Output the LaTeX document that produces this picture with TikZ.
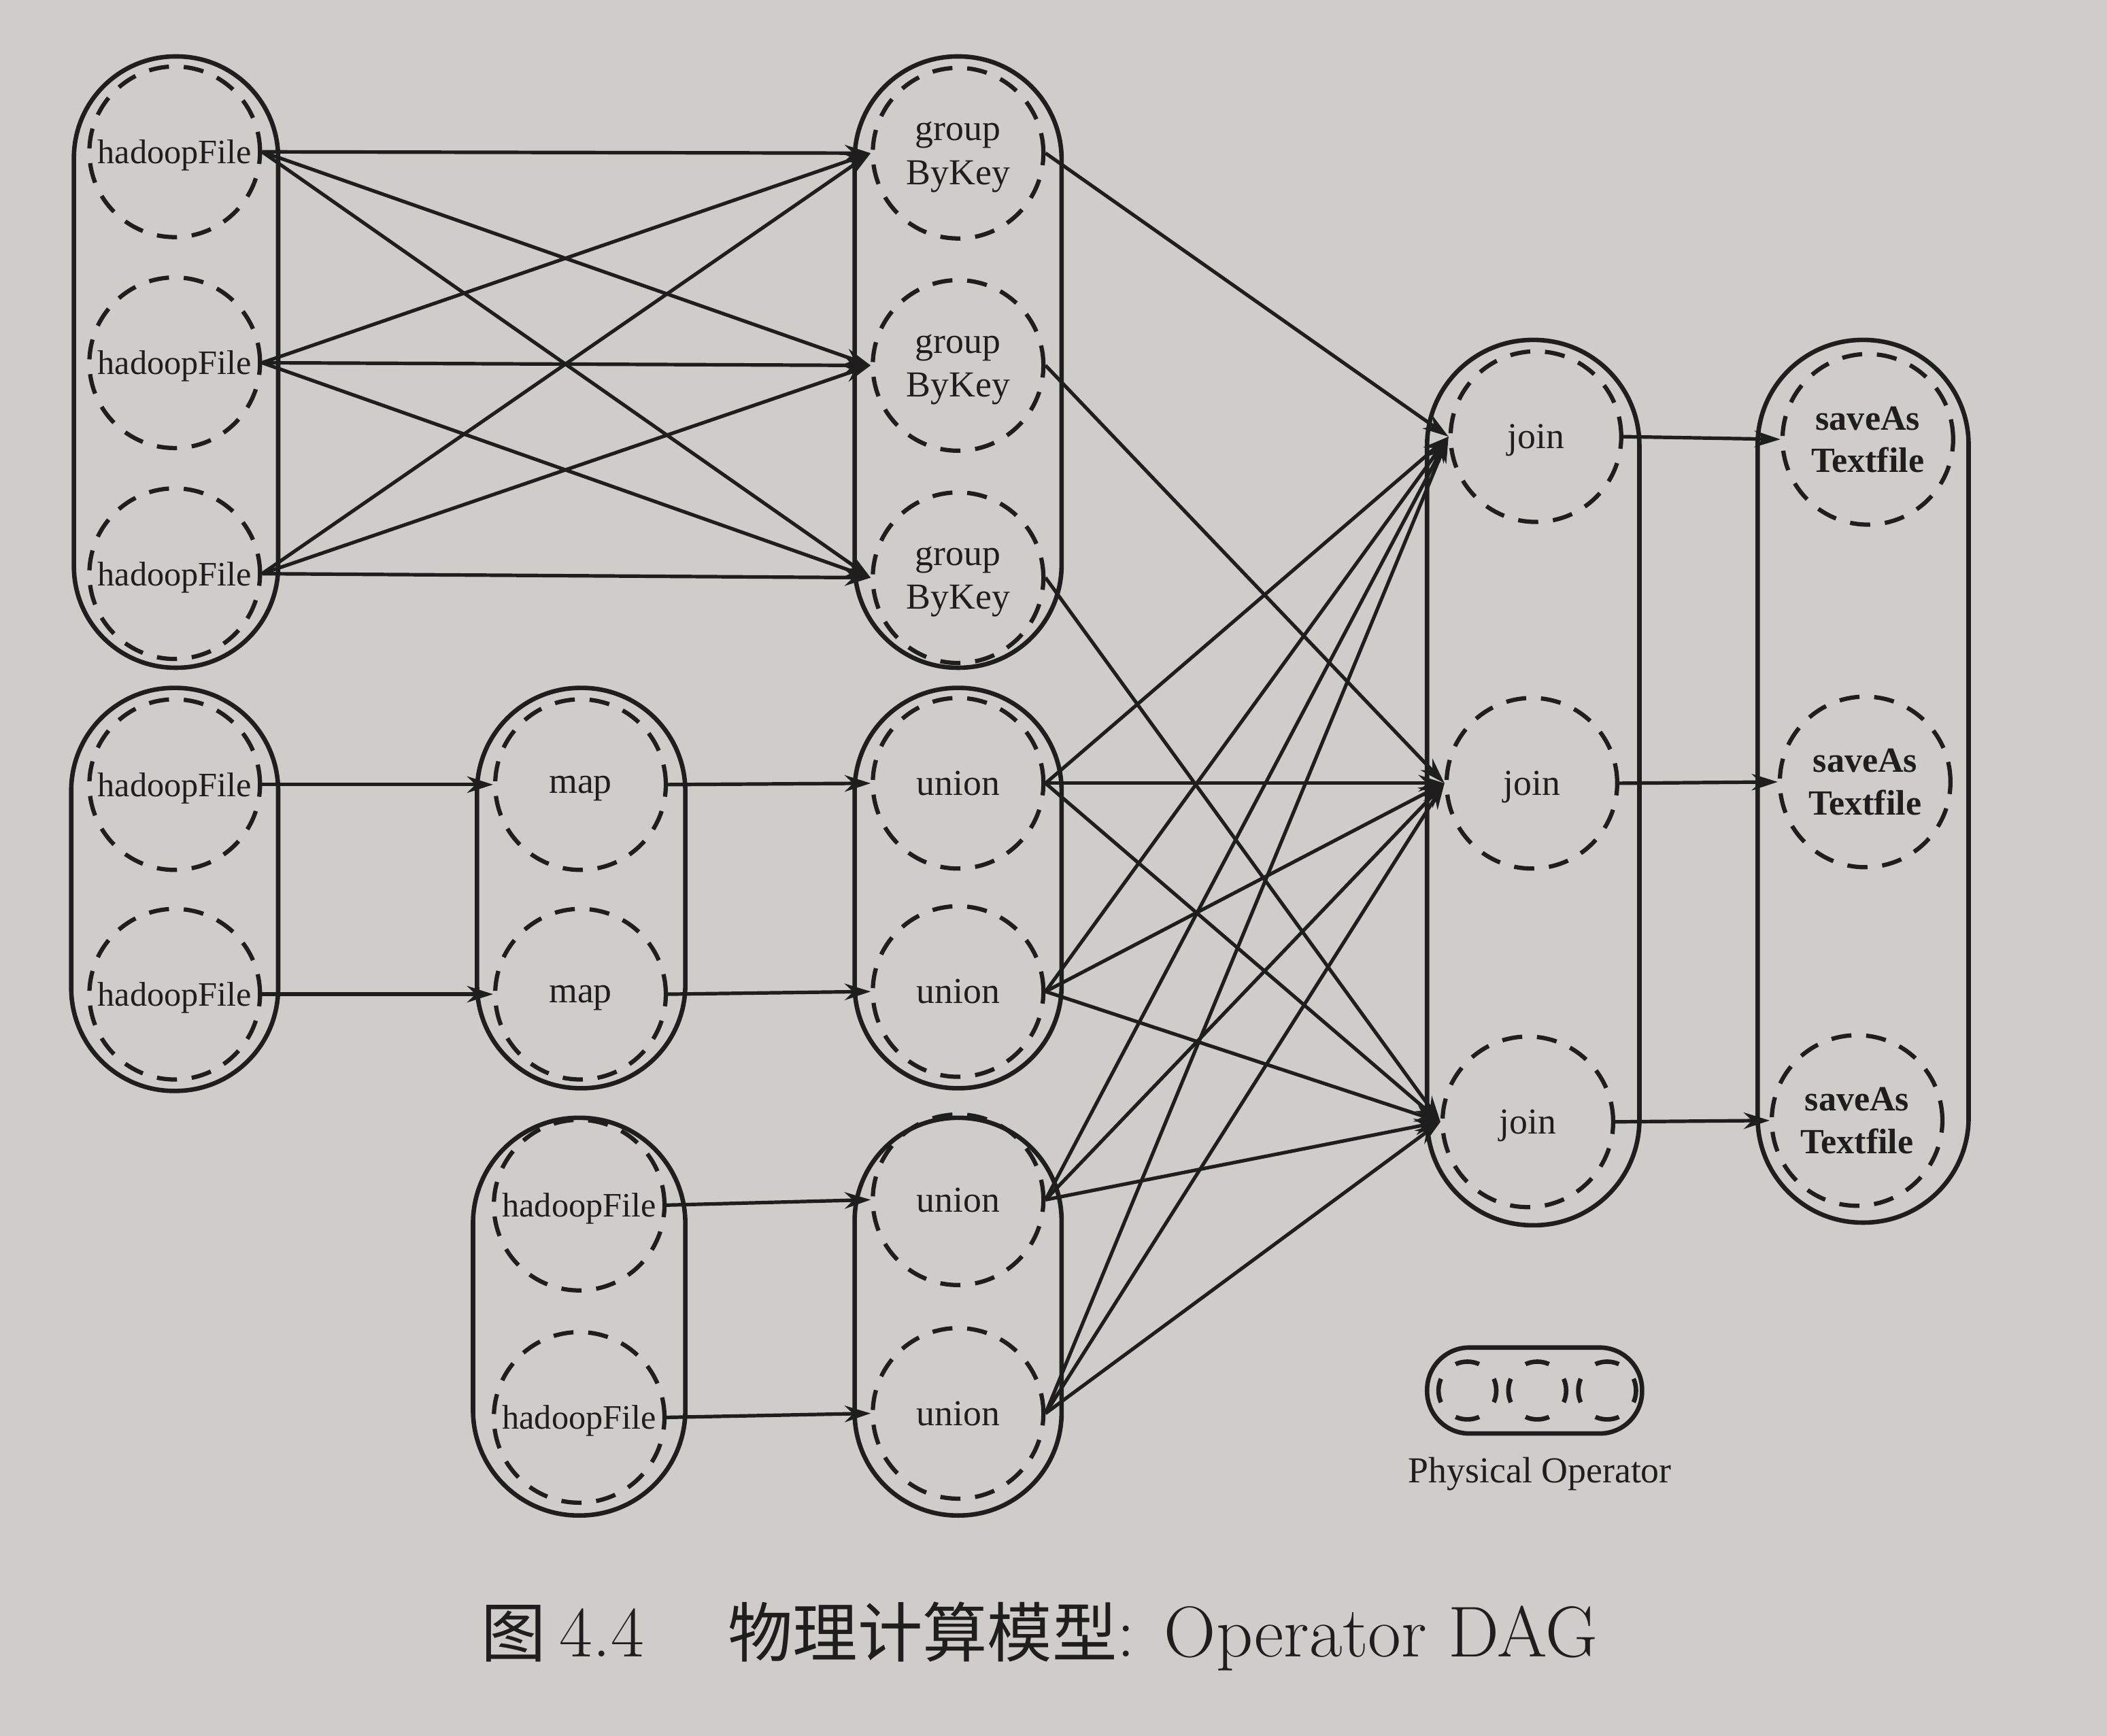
\documentclass[tikz,border=0pt]{standalone}
\usepackage{fontspec}
\newfontfamily\tms{Liberation Serif}
\newfontfamily\cjk{Noto Sans CJK SC}
\usetikzlibrary{arrows.meta}
\definecolor{ink}{HTML}{1E1E1E}
\definecolor{paper}{HTML}{CFCDCA}
\newcommand\mycapsule[5]{\draw[capline, rounded corners=#5cm] (#1,#2) rectangle (#3,#4);}
\begin{document}
\begin{tikzpicture}[x=0.02cm,y=-0.02cm,
  op/.style={circle, draw=ink, line width=1.8pt, dash pattern=on 0.3cm off 0.22cm,
    minimum size=2.54cm, inner sep=0pt, text=ink, align=center, text depth=0pt,
    font=\tms\fontsize{15.5}{18.5}\selectfont},
  hf/.style={op, font=\tms\fontsize{14.5}{17}\selectfont},
  sv/.style={op, font=\tms\bfseries\fontsize{15}{18}\selectfont},
  legop/.style={circle, draw=ink, line width=1.9pt, minimum size=0.86cm, inner sep=0pt,
    dash pattern=on 0.36cm off 0.3155cm, dash phase=0.18cm},
  capline/.style={draw=ink, line width=1.9pt},
  edge/.style={draw=ink, line width=1.5pt, -{Stealth[length=11pt,width=7pt]}}
]
\fill[paper] (0,0) rectangle (1568,1292);
\useasboundingbox (0,0) rectangle (1568,1292);

% containers
\mycapsule{55}{42}{207}{497}{1.51}
\mycapsule{53}{512}{207}{812}{1.53}
\mycapsule{355}{512}{510}{810}{1.54}
\mycapsule{352}{832}{510}{1128}{1.57}
\mycapsule{636}{42}{790}{497}{1.53}
\mycapsule{636}{512}{790}{810}{1.53}
\mycapsule{636}{832}{790}{1128}{1.53}
\mycapsule{1062}{253}{1220}{912}{1.57}
\mycapsule{1308}{253}{1465}{910}{1.56}
\mycapsule{1062}{1003}{1222}{1067}{0.63}

% operators
\node[hf] (a1) at (130,113) {hadoopFile};
\node[hf] (a2) at (130,270) {hadoopFile};
\node[hf] (a3) at (130,427) {hadoopFile};
\node[op] (e1) at (713,114) {group\\ByKey};
\node[op] (e2) at (713,272) {group\\ByKey};
\node[op] (e3) at (713,430) {group\\ByKey};
\node[hf] (b1) at (130,584) {hadoopFile};
\node[hf] (b2) at (130,740) {hadoopFile};
\node[op] (c1) at (432,584) {map};
\node[op] (c2) at (432,740) {map};
\node[hf] (d1) at (431,897) {hadoopFile};
\node[hf] (d2) at (431,1055) {hadoopFile};
\node[op] (f1) at (713,583) {union};
\node[op] (f2) at (713,738) {union};
\node[op] (f3) at (713,893) {union};
\node[op] (f4) at (713,1052) {union};
\node[op] (g1) at (1143,325) {join};
\node[op] (g2) at (1140,583) {join};
\node[op] (g3) at (1137,835) {join};
\node[sv] (h1) at (1390,327) {saveAs\\Textfile};
\node[sv] (h2) at (1388,582) {saveAs\\Textfile};
\node[sv] (h3) at (1382,834) {saveAs\\Textfile};

% legend
\node[legop] (l1) at (1092,1035) {};
\node[legop] (l2) at (1144,1035) {};
\node[legop] (l3) at (1196,1035) {};
\node[text=ink, font=\tms\fontsize{15.5}{18}\selectfont] (legtxt) at (1146,1097) {Physical Operator};

% edges
\foreach \i in {1,2,3}{\foreach \j in {1,2,3}{\draw[edge] (a\i.east) -- (e\j.west);}}
\foreach \i in {1,2,3}{\draw[edge] (e\i.east) -- (g\i.west);}
\draw[edge] (b1.east) -- (c1.west);
\draw[edge] (b2.east) -- (c2.west);
\draw[edge] (c1.east) -- (f1.west);
\draw[edge] (c2.east) -- (f2.west);
\draw[edge] (d1.east) -- (f3.west);
\draw[edge] (d2.east) -- (f4.west);
\foreach \k in {1,2,3,4}{\foreach \j in {1,2,3}{\draw[edge] (f\k.east) -- (g\j.west);}}
\foreach \i in {1,2,3}{\draw[edge] (g\i.east) -- (h\i.west);}

% caption
\node[anchor=west, text=ink, font=\fontsize{30.5}{33}\selectfont] (caption) at (352,1218)
  {{\cjk\fontsize{27.5}{30}\selectfont 图}\hspace{0.2cm}4.4\hspace{1.25cm}{\cjk\fontsize{27.5}{30}\selectfont 物理计算模型}: Operator DAG};
\end{tikzpicture}
\end{document}
